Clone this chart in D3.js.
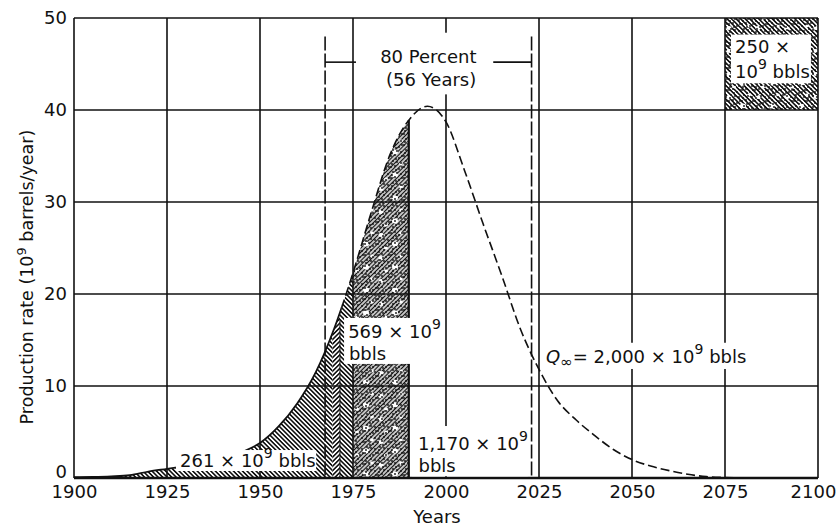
<!DOCTYPE html>
<html><head><meta charset="utf-8">
<script src="https://cdn.jsdelivr.net/npm/d3@7"></script>
<style>
body{margin:0;background:#fff}
svg{display:block}
text{font-family:"DejaVu Sans",sans-serif;fill:#111}
</style>
</head><body>
<svg id="c" width="838" height="527"></svg>
<script>
// ---------- data ----------
const years = [1900,1905,1910,1915,1920,1925,1930,1935,1940,1945,1950,1955,1960,1965,1970,1975,1980,1985,1990,1995,2000,2005,2010,2015,2020,2025,2030,2035,2040,2045,2050,2055,2060,2065,2070,2075,2080];
const rate  = [0.1,0.12,0.18,0.3,0.7,1.0,1.3,1.6,2.1,2.8,3.8,5.6,8.1,11.5,16.3,22.3,29.0,35.2,38.9,40.4,38.7,33.4,27.6,22.0,16.2,11.8,8.4,6.3,4.6,3.1,2.0,1.3,0.8,0.4,0.15,0.05,0.0];
const xTicks = [1900,1925,1950,1975,2000,2025,2050,2075,2100];
const yTicks = [0,10,20,30,40,50];
const eightyPercentYears = [1967.5, 2023];
const shadedBreaks = [1900, 1967.5, 1969.5, 1971.5, 1975, 1990];
const solidUntilYear = 1972;
const futureBox = {x0:2075, x1:2100, v0:40, v1:50};

// ---------- layout ----------
const svg = d3.select("#c");
const x = d3.scaleLinear().domain([1900,2100]).range([74,818]);
const y = d3.scaleLinear().domain([0,50]).range([478,18]);
const ink = "#111";
const defs = svg.append("defs");

function hatch(id, angle, s, w, dash){
  const p = defs.append("pattern").attr("id",id).attr("patternUnits","userSpaceOnUse")
    .attr("width",s).attr("height",s).attr("patternTransform",`rotate(${angle})`);
  const l = p.append("line").attr("x1",s/2).attr("x2",s/2).attr("y1",0).attr("y2",s)
    .attr("stroke",ink).attr("stroke-width",w);
  if(dash) l.attr("stroke-dasharray",dash);
}
hatch("hBack",-45,3.2,1.6);
hatch("hFwd",45,3.2,1.6);
hatch("hFwdDash",45,3.0,1.5,"5,1.2");
// stipple
const st = defs.append("pattern").attr("id","stip").attr("patternUnits","userSpaceOnUse").attr("width",13).attr("height",11);
[[1,2],[5,1],[9,4],[3,7],[11,9],[7,8],[12,2],[2,10],[6,5]].forEach(d=>
  st.append("circle").attr("cx",d[0]).attr("cy",d[1]).attr("r",0.9).attr("fill",ink));
const wb = defs.append("pattern").attr("id","blot").attr("patternUnits","userSpaceOnUse").attr("width",29).attr("height",23);
[[4,5,2.6],[18,14,3],[24,3,1.8],[9,18,2]].forEach(d=>
  wb.append("ellipse").attr("cx",d[0]).attr("cy",d[1]).attr("rx",d[2]).attr("ry",d[2]*0.8).attr("fill","#fff"));

svg.append("rect").attr("width",838).attr("height",527).attr("fill","#fff");

// shaded segments
const area = d3.area().x((d,i)=>x(years[i])).y0(y(0)).y1((d,i)=>y(rate[i])).curve(d3.curveMonotoneX);
const line = d3.line().x((d,i)=>x(years[i])).y((d,i)=>y(rate[i])).curve(d3.curveMonotoneX);
const fills = [["hBack"],["hBack"],["hFwd"],["hBack"],["hFwdDash","blot","stip"]];
for(let k=0;k<shadedBreaks.length-1;k++){
  const cid = "seg"+k;
  defs.append("clipPath").attr("id",cid).append("rect")
    .attr("x",x(shadedBreaks[k])).attr("width",x(shadedBreaks[k+1])-x(shadedBreaks[k]))
    .attr("y",0).attr("height",527);
  fills[k].forEach(f=>svg.append("path").datum(rate).attr("d",area)
    .attr("fill",`url(#${f})`).attr("clip-path",`url(#${cid})`));
}
// future discoveries box
["hBack","blot","stip"].forEach(f=>svg.append("rect")
  .attr("x",x(futureBox.x0)).attr("y",y(futureBox.v1))
  .attr("width",x(futureBox.x1)-x(futureBox.x0)).attr("height",y(futureBox.v0)-y(futureBox.v1))
  .attr("fill",`url(#${f})`));

// gridlines
svg.append("g").selectAll("line").data(xTicks).join("line")
  .attr("x1",d=>x(d)).attr("x2",d=>x(d)).attr("y1",y(50)).attr("y2",y(0))
  .attr("stroke",ink).attr("stroke-width",1.6);
svg.append("g").selectAll("line").data(yTicks).join("line")
  .attr("x1",x(1900)).attr("x2",x(2100)).attr("y1",d=>y(d)).attr("y2",d=>y(d))
  .attr("stroke",ink).attr("stroke-width",d=>d===0?2.4:1.6);

// segment edges
const i1990 = years.indexOf(1990);
svg.append("line").attr("x1",x(1990)).attr("x2",x(1990)).attr("y1",y(rate[i1990])).attr("y2",y(0))
  .attr("stroke",ink).attr("stroke-width",2.2);
svg.append("line").attr("x1",x(1971.5)).attr("x2",x(1971.5)).attr("y1",y(17.2)).attr("y2",y(0))
  .attr("stroke",ink).attr("stroke-width",1);

// curve
defs.append("clipPath").attr("id","cSolid").append("rect").attr("x",0).attr("width",x(solidUntilYear)).attr("y",0).attr("height",527);
defs.append("clipPath").attr("id","cDash").append("rect").attr("x",x(solidUntilYear)).attr("width",838).attr("y",0).attr("height",527);
svg.append("path").datum(rate).attr("d",line).attr("fill","none").attr("stroke",ink).attr("stroke-width",1.8).attr("clip-path","url(#cSolid)");
svg.append("path").datum(rate).attr("d",line).attr("fill","none").attr("stroke",ink).attr("stroke-width",1.6)
  .attr("stroke-dasharray","9,4").attr("clip-path","url(#cDash)");

// 80 percent dashed lines and bracket
svg.append("g").selectAll("line").data(eightyPercentYears).join("line")
  .attr("x1",d=>x(d)).attr("x2",d=>x(d)).attr("y1",y(48)).attr("y2",y(0))
  .attr("stroke",ink).attr("stroke-width",1.6).attr("stroke-dasharray","14,3");
[[eightyPercentYears[0],1975.8],[2012.7,eightyPercentYears[1]]].forEach(s=>
  svg.append("line").attr("x1",x(s[0])).attr("x2",x(s[1])).attr("y1",y(45.2)).attr("y2",y(45.2))
   .attr("stroke",ink).attr("stroke-width",1.6));

// white label boxes
const boxes = [[1976.3,2012.1,48.4,41.7],[1972.6,1997.6,17.4,12.4],[1990.9,2022.0,5.65,0.2],
               [1927.4,1965.1,3.04,0.76],[2025.8,2082.3,14.7,11.85],[2076.6,2098.1,48.2,42.9]];
boxes.forEach(b=>svg.append("rect").attr("x",x(b[0])).attr("width",x(b[1])-x(b[0]))
  .attr("y",y(b[2])).attr("height",y(b[3])-y(b[2])).attr("fill","#fff"));

// axes (labels only)
const fs = 18;
const gx = svg.append("g").attr("transform",`translate(0,${y(0)})`)
  .call(d3.axisBottom(x).tickValues(xTicks).tickSize(0).tickPadding(7).tickFormat(d3.format("d")));
gx.select(".domain").remove();
gx.selectAll("text").attr("font-size",fs).attr("font-family","DejaVu Sans").attr("fill",ink)
  .attr("dx",d=>d===2100?-5:0);
const gy = svg.append("g").attr("transform",`translate(${x(1900)},0)`)
  .call(d3.axisLeft(y).tickValues(yTicks).tickSize(0).tickPadding(7));
gy.select(".domain").remove();
gy.selectAll("text").attr("font-size",fs).attr("font-family","DejaVu Sans").attr("fill",ink)
  .attr("y",d=>d===0?-6:0);

svg.append("text").attr("x",437).attr("y",523).attr("text-anchor","middle").attr("font-size",fs).text("Years");
const yt = svg.append("text").attr("transform","translate(33,277) rotate(-90)").attr("text-anchor","middle").attr("font-size",17.5);
yt.append("tspan").text("Production rate (10");
yt.append("tspan").attr("dy",-7).attr("font-size",13).text("9");
yt.append("tspan").attr("dy",7).text(" barrels/year)");

// annotations
function sup(sel, before, after){
  sel.append("tspan").text(before);
  sel.append("tspan").attr("dy",-9).attr("font-size",14).text("9");
  if(after!==undefined) sel.append("tspan").attr("dy",9).text(after);
}
function ann(yr, v){ return svg.append("text").attr("x",x(yr)).attr("y",y(v)).attr("font-size",fs); }
ann(1982.3,45.1).text("80 Percent");
ann(1983.9,42.6).text("(56 Years)");
sup(ann(1973.7,15.2),"569 × 10");
ann(1973.9,12.8).text("bbls");
sup(ann(1992.5,3.04),"1,170 × 10");
ann(1992.6,0.65).text("bbls");
sup(ann(1928.5,1.2),"261 × 10"," bbls");
ann(2077.7,46.2).text("250 ×");
sup(ann(2077.7,43.5),"10"," bbls");
const q = ann(2026.9,12.5);
q.append("tspan").attr("font-style","italic").text("Q");
q.append("tspan").attr("dy",4).attr("font-size",15).text("∞");
q.append("tspan").attr("dy",-4).text("= 2,000 × 10");
q.append("tspan").attr("dy",-9).attr("font-size",14).text("9");
q.append("tspan").attr("dy",9).text(" bbls");
</script>
</body></html>
